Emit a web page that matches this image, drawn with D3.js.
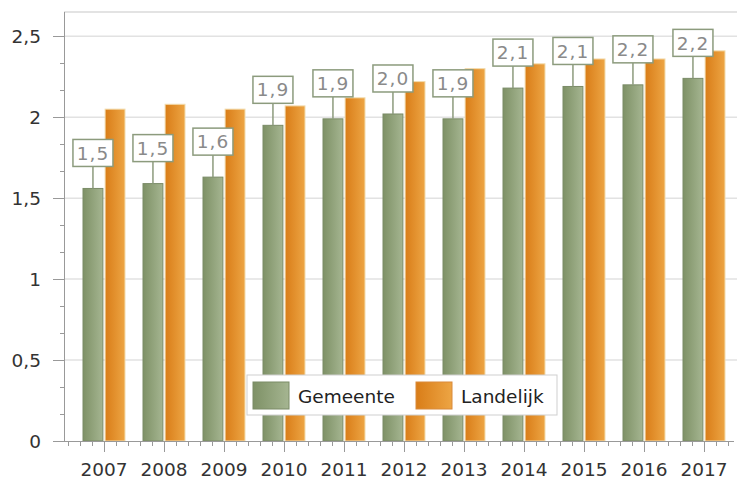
<!DOCTYPE html>
<html>
<head>
<meta charset="utf-8">
<script src="https://cdn.jsdelivr.net/npm/d3@7"></script>
<style>
  body { margin: 0; background: #fff; }
  text { font-family: "DejaVu Sans", sans-serif; }
</style>
</head>
<body>
<div id="chart"></div>
<script>
var years = ["2007", "2008", "2009", "2010", "2011", "2012", "2013", "2014", "2015", "2016", "2017"];
var series = ["Gemeente", "Landelijk"];
var gemeente = [1.56, 1.59, 1.63, 1.95, 1.99, 2.02, 1.99, 2.18, 2.19, 2.20, 2.24];
var landelijk = [2.05, 2.08, 2.05, 2.07, 2.12, 2.22, 2.30, 2.33, 2.36, 2.36, 2.41];
var gemeenteLabels = ["1,5", "1,5", "1,6", "1,9", "1,9", "2,0", "1,9", "2,1", "2,1", "2,2", "2,2"];
var yTicks = [0, 0.5, 1, 1.5, 2, 2.5];

(function(){
    var width = 737,
        height = 481;

    var svg = d3.select("#chart")
        .append("svg")
        .attr("width", width)
        .attr("height", height);

    var defs = svg.append("defs");

    var gGreen = defs.append("linearGradient").attr("id", "grad-green")
        .attr("x1", "0%").attr("x2", "100%").attr("y1", "0%").attr("y2", "0%");
    gGreen.append("stop").attr("offset", "0%").attr("stop-color", "#7e9166");
    gGreen.append("stop").attr("offset", "100%").attr("stop-color", "#a5b591");

    var gOrange = defs.append("linearGradient").attr("id", "grad-orange")
        .attr("x1", "0%").attr("x2", "100%").attr("y1", "0%").attr("y2", "0%");
    gOrange.append("stop").attr("offset", "0%").attr("stop-color", "#d97d18");
    gOrange.append("stop").attr("offset", "100%").attr("stop-color", "#eda544");

    var left = 64, top = 12, bottom = 441;

    var y = d3.scaleLinear().domain([0, 2.65]).range([bottom, top]);
    var x = d3.scaleBand().domain(years).range([74, 734]);
    var x1 = d3.scaleBand().domain(series).range([9, 51]).paddingInner(0.1);

    // grid
    svg.selectAll(".grid")
        .data(yTicks.filter(function(d){ return d > 0; }))
        .enter().append("line")
        .attr("class", "grid")
        .attr("x1", left).attr("x2", width)
        .attr("y1", function(d){ return y(d); })
        .attr("y2", function(d){ return y(d); })
        .attr("stroke", "#e2e2e2")
        .attr("stroke-width", 1.5);

    svg.append("line")
        .attr("x1", left).attr("x2", width)
        .attr("y1", y(2.65)).attr("y2", y(2.65))
        .attr("stroke", "#dadada").attr("stroke-width", 1.5);

    // y axis
    var yMinor = d3.range(0, 16).map(function(i){ return i * 0.5 / 3; });
    svg.selectAll(".yminor")
        .data(yMinor)
        .enter().append("line")
        .attr("x1", left - 4).attr("x2", left)
        .attr("y1", function(d){ return Math.round(y(d)) + 0.5; })
        .attr("y2", function(d){ return Math.round(y(d)) + 0.5; })
        .attr("stroke", "#999");

    svg.selectAll(".ymajor")
        .data(yTicks)
        .enter().append("line")
        .attr("x1", left - 11).attr("x2", left)
        .attr("y1", function(d){ return Math.round(y(d)) + 0.5; })
        .attr("y2", function(d){ return Math.round(y(d)) + 0.5; })
        .attr("stroke", "#999");

    svg.selectAll(".ylabel")
        .data(yTicks)
        .enter().append("text")
        .attr("x", 41)
        .attr("y", function(d){ return y(d); })
        .attr("dy", "0.36em")
        .attr("text-anchor", "end")
        .attr("font-size", 18.5)
        .attr("fill", "#333")
        .text(function(d){ return String(d).replace(".", ","); });

    svg.append("line")
        .attr("x1", left + 0.5).attr("x2", left + 0.5)
        .attr("y1", top).attr("y2", bottom)
        .attr("stroke", "#999");

    // bars
    var groups = svg.selectAll(".year")
        .data(years)
        .enter().append("g")
        .attr("class", "year")
        .attr("transform", function(d){ return "translate(" + x(d) + ",0)"; });

    groups.append("rect")
        .attr("x", x1("Gemeente"))
        .attr("width", x1.bandwidth())
        .attr("y", function(d, i){ return y(gemeente[i]); })
        .attr("height", function(d, i){ return bottom - y(gemeente[i]); })
        .attr("fill", "url(#grad-green)")
        .attr("stroke", "#7a8b67")
        .attr("stroke-width", 1);

    groups.append("rect")
        .attr("x", x1("Landelijk"))
        .attr("width", x1.bandwidth())
        .attr("y", function(d, i){ return y(landelijk[i]); })
        .attr("height", function(d, i){ return bottom - y(landelijk[i]); })
        .attr("fill", "url(#grad-orange)")
        .attr("stroke", "#f2dcae")
        .attr("stroke-width", 1);

    // value labels
    var bw = 40, bh = 27, gap = 22;
    var gcx = x1("Gemeente") + x1.bandwidth() / 2;

    groups.append("line")
        .attr("x1", gcx).attr("x2", gcx)
        .attr("y1", function(d, i){ return y(gemeente[i]) - gap; })
        .attr("y2", function(d, i){ return y(gemeente[i]); })
        .attr("stroke", "#8c9b7d").attr("stroke-width", 1.5);

    groups.append("rect")
        .attr("x", gcx - bw / 2)
        .attr("y", function(d, i){ return y(gemeente[i]) - gap - bh; })
        .attr("width", bw).attr("height", bh)
        .attr("fill", "#fff")
        .attr("stroke", "#8c9b7d")
        .attr("stroke-width", 1.5);

    groups.append("text")
        .attr("x", gcx)
        .attr("y", function(d, i){ return y(gemeente[i]) - gap - bh / 2; })
        .attr("dy", "0.36em")
        .attr("text-anchor", "middle")
        .attr("font-size", 18.5)
        .attr("letter-spacing", 1)
        .attr("fill", "#8a8a8a")
        .text(function(d, i){ return gemeenteLabels[i]; });

    // x axis
    svg.append("line")
        .attr("x1", left).attr("x2", 734)
        .attr("y1", bottom + 0.5).attr("y2", bottom + 0.5)
        .attr("stroke", "#999");

    var step = x.step() / 5;
    var xStart = x(years[0]) + x.bandwidth() / 2 - 3 * step;
    var xMinor = d3.range(0, 56).map(function(n){ return xStart + n * step; });

    svg.selectAll(".xminor")
        .data(xMinor)
        .enter().append("line")
        .attr("x1", function(d){ return Math.round(d) + 0.5; })
        .attr("x2", function(d){ return Math.round(d) + 0.5; })
        .attr("y1", bottom).attr("y2", bottom + 5)
        .attr("stroke", "#999");

    groups.append("line")
        .attr("x1", x.bandwidth() / 2 + 0.5).attr("x2", x.bandwidth() / 2 + 0.5)
        .attr("y1", bottom).attr("y2", bottom + 11)
        .attr("stroke", "#999");

    groups.append("text")
        .attr("x", x.bandwidth() / 2)
        .attr("y", 469)
        .attr("dy", "0.36em")
        .attr("text-anchor", "middle")
        .attr("font-size", 18.5)
        .attr("fill", "#333")
        .text(function(d){ return d; });

    // legend
    var legend = svg.append("g").attr("transform", "translate(247,375)");
    legend.append("rect")
        .attr("width", 310).attr("height", 40)
        .attr("fill", "#fff")
        .attr("stroke", "#cfcfcf");

    var items = legend.selectAll(".item")
        .data(series)
        .enter().append("g")
        .attr("transform", function(d, i){ return "translate(" + (6 + i * 163) + ",7)"; });

    items.append("rect")
        .attr("width", 36).attr("height", 27)
        .attr("fill", function(d, i){ return i === 0 ? "url(#grad-green)" : "url(#grad-orange)"; })
        .attr("stroke", function(d, i){ return i === 0 ? "#7a8b67" : "#d98a3a"; });

    items.append("text")
        .attr("x", 45)
        .attr("y", 14)
        .attr("dy", "0.36em")
        .attr("font-size", 18.5)
        .attr("fill", "#222")
        .text(function(d){ return d; });
})();
</script>
</body>
</html>
